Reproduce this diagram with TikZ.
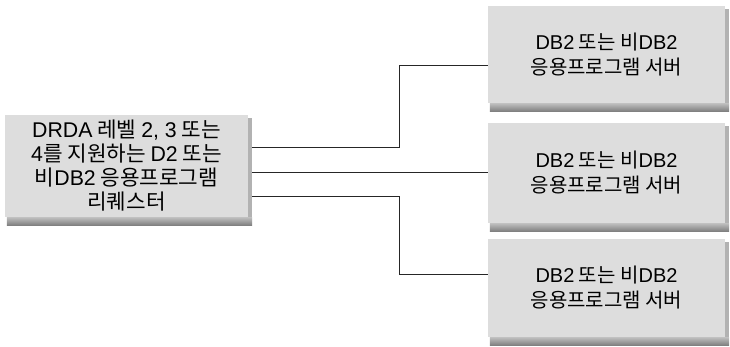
\documentclass[tikz,border=0pt]{standalone}
\usepackage{fontspec}
\setmainfont{Noto Sans CJK KR}
\newfontfamily\lat{Liberation Sans}
\definecolor{boxfill}{HTML}{DDDDDD}
\tikzset{
  x=1pt,y=-1pt,
  srvbox/.style={rectangle, fill=boxfill, inner sep=0pt, align=center,
    font=\fontsize{20pt}{25pt}\selectfont},
  reqbox/.style={srvbox, font=\fontsize{21.3pt}{24pt}\selectfont},
  conn/.style={draw=black!85, line width=0.9pt}
}
\begin{document}
\begin{tikzpicture}
\useasboundingbox (0,0) rectangle (730,347);
\node[reqbox, minimum width=243pt, minimum height=102pt] (L) at (126.5,166)
  {{\lat DRDA} 레벨 {\lat 2, 3} 또는\\{\lat 4}를 지원하는 {\lat D2} 또는\\비{\lat DB2} 응용프로그램\\리퀘스터};
\node[srvbox, minimum width=237pt, minimum height=97pt] (R1) at (606.5,54.5)
  {{\lat DB2} 또는 비{\lat DB2}\\응용프로그램 서버};
\node[srvbox, minimum width=237pt, minimum height=100pt] (R2) at (606.5,173)
  {{\lat DB2} 또는 비{\lat DB2}\\응용프로그램 서버};
\node[srvbox, minimum width=237pt, minimum height=98pt] (R3) at (606.5,288)
  {{\lat DB2} 또는 비{\lat DB2}\\응용프로그램 서버};
\coordinate (J) at (399,0);
\coordinate (T1) at ([yshift=-10.5pt]R1.west);
\coordinate (T3) at ([yshift=14pt]R3.west);
\draw[conn] ([yshift=18.5pt]L.east) -| (J |- T1) -- (T1);
\draw[conn] ([yshift=-6.5pt]L.east) -- ([yshift=-6.5pt]L.east -| R2.west);
\draw[conn] ([yshift=-30pt]L.east) -| (J |- T3) -- (T3);
\foreach \n in {L,R1,R2,R3}{
  \fill[black!30] ([yshift=-3pt]\n.north east) rectangle ([xshift=4pt]\n.south east);
  \shade[top color=black!25, bottom color=black!50]
    ([xshift=2pt]\n.south west) rectangle ([xshift=4pt,yshift=-8pt]\n.south east);
}
\end{tikzpicture}
\end{document}
